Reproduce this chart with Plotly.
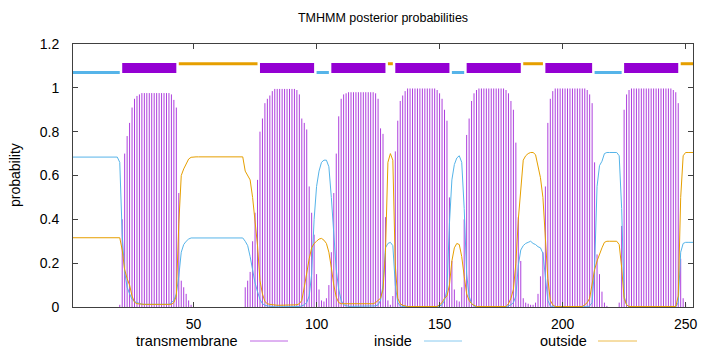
import plotly.graph_objects as go

# ---- data (per residue) ----
residues = list(range(1, 254))

tm_prob = [
    0, 0, 0, 0, 0, 0, 0, 0, 0, 0,
    0, 0, 0, 0, 0, 0, 0, 0, 0, 0.01,
    0.40, 0.70, 0.78, 0.84, 0.91, 0.95, 0.963, 0.97, 0.976, 0.976,
    0.976, 0.976, 0.976, 0.976, 0.976, 0.976, 0.976, 0.976, 0.976, 0.976,
    0.97, 0.945, 0.91, 0.52, 0.12, 0.09, 0.06, 0.03, 0.01, 0,
    0, 0, 0, 0, 0, 0, 0, 0, 0, 0,
    0, 0, 0, 0, 0, 0, 0, 0, 0, 0,
    0.09, 0.12, 0.16, 0.30, 0.43, 0.58, 0.80, 0.86, 0.93, 0.95,
    0.965, 0.985, 0.995, 0.995, 0.995, 0.995, 0.995, 0.995, 0.995, 0.995,
    0.995, 0.99, 0.97, 0.86, 0.84, 0.81, 0.55, 0.43, 0.33, 0.15,
    0.08, 0.03, 0.025, 0.04, 0.10, 0.25, 0.52, 0.70, 0.87, 0.95,
    0.97, 0.975, 0.98, 0.98, 0.98, 0.98, 0.98, 0.98, 0.98, 0.98,
    0.98, 0.98, 0.98, 0.975, 0.95, 0.815, 0.79, 0.41, 0.03, 0.01,
    0.05, 0.71, 0.85, 0.94, 0.965, 0.985, 0.997, 0.997, 0.997, 0.997,
    0.997, 0.997, 0.997, 0.997, 0.997, 0.997, 0.997, 0.997, 0.99, 0.975,
    0.95, 0.90, 0.85, 0.50, 0.21, 0.08, 0.03, 0.025, 0.09, 0.40,
    0.785, 0.86, 0.94, 0.975, 0.99, 0.997, 0.997, 0.997, 0.997, 0.997,
    0.997, 0.997, 0.997, 0.997, 0.997, 0.997, 0.99, 0.975, 0.94, 0.90,
    0.75, 0.41, 0.21, 0.04, 0.02, 0.015, 0.01, 0.01, 0.02, 0.06,
    0.14, 0.25, 0.55, 0.84, 0.95, 0.985, 0.997, 0.997, 0.997, 0.997,
    0.997, 0.997, 0.997, 0.997, 0.997, 0.997, 0.997, 0.997, 0.997, 0.99,
    0.97, 0.93, 0.66, 0.24, 0.15, 0.07, 0.02, 0.005, 0, 0,
    0, 0, 0.02, 0.37, 0.90, 0.97, 0.99, 0.997, 0.997, 0.997,
    0.997, 0.997, 0.997, 0.997, 0.997, 0.997, 0.997, 0.997, 0.997, 0.997,
    0.997, 0.997, 0.997, 0.997, 0.99, 0.98, 0.93, 0.22, 0.04, 0.015,
    0, 0, 0,
]

inside_prob = [
    0.684, 0.684, 0.684, 0.684, 0.684, 0.684, 0.684, 0.684, 0.684, 0.684,
    0.684, 0.684, 0.684, 0.684, 0.684, 0.684, 0.684, 0.684, 0.684, 0.66,
    0.33, 0.16, 0.09, 0.06, 0.035, 0.025, 0.02, 0.016, 0.012, 0.012,
    0.012, 0.012, 0.012, 0.012, 0.012, 0.012, 0.012, 0.012, 0.012, 0.012,
    0.02, 0.03, 0.06, 0.14, 0.25, 0.285, 0.30, 0.31, 0.315, 0.315,
    0.315, 0.315, 0.315, 0.315, 0.315, 0.315, 0.315, 0.315, 0.315, 0.315,
    0.315, 0.315, 0.315, 0.315, 0.315, 0.315, 0.315, 0.315, 0.315, 0.315,
    0.30, 0.28, 0.23, 0.16, 0.11, 0.07, 0.035, 0.015, 0.008, 0.005,
    0.003, 0.002, 0.001, 0.001, 0.001, 0.001, 0.001, 0.001, 0.001, 0.001,
    0.001, 0.001, 0.002, 0.005, 0.01, 0.02, 0.05, 0.15, 0.40, 0.55,
    0.62, 0.66, 0.67, 0.67, 0.64, 0.50, 0.32, 0.17, 0.08, 0.03,
    0.01, 0.005, 0.003, 0.003, 0.003, 0.003, 0.003, 0.003, 0.003, 0.003,
    0.003, 0.003, 0.003, 0.005, 0.01, 0.03, 0.10, 0.27, 0.29, 0.295,
    0.28, 0.10, 0.02, 0.005, 0.002, 0.001, 0.001, 0.001, 0.001, 0.001,
    0.001, 0.001, 0.001, 0.001, 0.001, 0.001, 0.001, 0.001, 0.001, 0.005,
    0.01, 0.03, 0.08, 0.38, 0.58, 0.65, 0.68, 0.69, 0.66, 0.45,
    0.15, 0.05, 0.015, 0.005, 0.001, 0.001, 0.001, 0.001, 0.001, 0.001,
    0.001, 0.001, 0.001, 0.001, 0.001, 0.001, 0.001, 0.005, 0.01, 0.02,
    0.05, 0.19, 0.26, 0.28, 0.29, 0.295, 0.30, 0.29, 0.285, 0.275,
    0.27, 0.245, 0.12, 0.03, 0.005, 0.001, 0.001, 0.001, 0.001, 0.001,
    0.001, 0.001, 0.001, 0.001, 0.001, 0.001, 0.001, 0.001, 0.001, 0.001,
    0.005, 0.02, 0.18, 0.55, 0.645, 0.665, 0.70, 0.705, 0.705, 0.705,
    0.705, 0.705, 0.69, 0.45, 0.05, 0.01, 0.001, 0.001, 0.001, 0.001,
    0.001, 0.001, 0.001, 0.001, 0.001, 0.001, 0.001, 0.001, 0.001, 0.001,
    0.001, 0.001, 0.001, 0.001, 0.001, 0.001, 0.02, 0.25, 0.29, 0.295,
    0.295, 0.295, 0.295,
]

outside_prob = [
    0.316, 0.316, 0.316, 0.316, 0.316, 0.316, 0.316, 0.316, 0.316, 0.316,
    0.316, 0.316, 0.316, 0.316, 0.316, 0.316, 0.316, 0.316, 0.316, 0.316,
    0.26, 0.17, 0.13, 0.10, 0.05, 0.022, 0.015, 0.013, 0.012, 0.012,
    0.012, 0.012, 0.012, 0.012, 0.012, 0.012, 0.012, 0.012, 0.012, 0.012,
    0.012, 0.02, 0.05, 0.38, 0.60, 0.63, 0.655, 0.675, 0.683, 0.685,
    0.685, 0.685, 0.685, 0.685, 0.685, 0.685, 0.685, 0.685, 0.685, 0.685,
    0.685, 0.685, 0.685, 0.685, 0.685, 0.685, 0.685, 0.685, 0.685, 0.685,
    0.62, 0.60, 0.58, 0.50, 0.40, 0.28, 0.12, 0.06, 0.025, 0.015,
    0.012, 0.01, 0.008, 0.008, 0.008, 0.008, 0.008, 0.008, 0.008, 0.008,
    0.008, 0.01, 0.015, 0.03, 0.09, 0.16, 0.22, 0.27, 0.29, 0.30,
    0.31, 0.313, 0.305, 0.29, 0.25, 0.18, 0.10, 0.045, 0.02, 0.015,
    0.015, 0.015, 0.015, 0.015, 0.015, 0.015, 0.015, 0.015, 0.015, 0.015,
    0.015, 0.015, 0.015, 0.02, 0.03, 0.04, 0.08, 0.25, 0.66, 0.70,
    0.67, 0.19, 0.04, 0.015, 0.008, 0.004, 0.002, 0.002, 0.002, 0.002,
    0.002, 0.002, 0.002, 0.002, 0.002, 0.002, 0.002, 0.002, 0.002, 0.01,
    0.02, 0.04, 0.05, 0.10, 0.21, 0.27, 0.29, 0.285, 0.23, 0.14,
    0.06, 0.03, 0.015, 0.008, 0.002, 0.002, 0.002, 0.002, 0.002, 0.002,
    0.002, 0.002, 0.002, 0.002, 0.002, 0.002, 0.002, 0.015, 0.04, 0.08,
    0.20, 0.40, 0.53, 0.67, 0.69, 0.70, 0.705, 0.705, 0.695, 0.64,
    0.59, 0.50, 0.33, 0.13, 0.03, 0.01, 0.002, 0.002, 0.002, 0.002,
    0.002, 0.002, 0.002, 0.002, 0.002, 0.002, 0.002, 0.002, 0.01, 0.02,
    0.04, 0.11, 0.17, 0.21, 0.245, 0.27, 0.295, 0.30, 0.30, 0.30,
    0.30, 0.30, 0.285, 0.18, 0.04, 0.01, 0.002, 0.002, 0.002, 0.002,
    0.002, 0.002, 0.002, 0.002, 0.002, 0.002, 0.002, 0.002, 0.002, 0.002,
    0.002, 0.002, 0.002, 0.002, 0.002, 0.002, 0.05, 0.50, 0.69, 0.705,
    0.705, 0.705, 0.705,
]

# predicted topology segments
seg_type = ["inside", "TMhelix", "outside", "TMhelix", "inside", "TMhelix", "outside",
            "TMhelix", "inside", "TMhelix", "outside", "TMhelix", "inside", "TMhelix", "outside"]
seg_start = [1, 21, 44, 77, 100, 106, 129, 132, 155, 161, 184, 193, 213, 225, 248]
seg_end = [20, 43, 76, 99, 105, 128, 131, 154, 160, 183, 192, 212, 224, 247, 253]

x_ticks = [50, 100, 150, 200, 250]
y_ticks = [0, 0.2, 0.4, 0.6, 0.8, 1.0, 1.2]
y_tick_labels = ["0", "0.2", "0.4", "0.6", "0.8", "1", "1.2"]

title_text = "TMHMM posterior probabilities"
legend_names = ["transmembrane", "inside", "outside"]

# ---- styles ----
C_TM = "#9400d3"
C_IN = "#56b4e9"
C_OUT = "#e69f00"
FONT = "Liberation Sans, Arial, sans-serif"

fig = go.Figure()

# impulses for transmembrane
ix, iy = [], []
for r, v in zip(residues, tm_prob):
    if v > 0:
        ix += [r, r, None]
        iy += [0, v, None]
fig.add_trace(go.Scatter(x=ix, y=iy, mode="lines",
                         line=dict(color=C_TM, width=1), opacity=0.75,
                         showlegend=False, hoverinfo="skip"))

fig.add_trace(go.Scatter(x=residues, y=inside_prob, mode="lines",
                         line=dict(color=C_IN, width=1), showlegend=False))
fig.add_trace(go.Scatter(x=residues, y=outside_prob, mode="lines",
                         line=dict(color=C_OUT, width=1), showlegend=False))

# topology bars at the top
seg_style = {
    "inside": (1.07, C_IN, 3),
    "TMhelix": (1.09, C_TM, 10),
    "outside": (1.11, C_OUT, 3),
}
for kind, (yv, col, w) in seg_style.items():
    sx, sy = [], []
    for t, a, b in zip(seg_type, seg_start, seg_end):
        if t == kind:
            sx += [a, b, None]
            sy += [yv, yv, None]
    fig.add_trace(go.Scatter(x=sx, y=sy, mode="lines",
                             line=dict(color=col, width=w),
                             showlegend=False, hoverinfo="skip"))

# plot area geometry in pixels
W, H = 720, 352
L, R, T, B = 73, 693, 44, 307


def px2paper_x(px):
    return (px - L) / (R - L)


def px2paper_y(py):
    return (B - py) / (B - T)


annotations = [
    dict(text="probability", x=px2paper_x(15), y=px2paper_y(175), xref="paper", yref="paper",
         showarrow=False, textangle=-90, font=dict(family=FONT, size=14, color="#000"),
         xanchor="center", yanchor="middle"),
]
shapes = []
leg_text_right = [240, 414, 589]
leg_line = [(250, 288), (424, 462), (598, 637)]
leg_cols = ["rgba(148,0,211,0.6)", "rgba(86,180,233,0.7)", "rgba(230,159,0,0.7)"]
leg_y = 341
for name, tr, (l0, l1), col in zip(legend_names, leg_text_right, leg_line, leg_cols):
    annotations.append(dict(text=name, x=px2paper_x(tr), y=px2paper_y(leg_y),
                            xref="paper", yref="paper", showarrow=False,
                            xanchor="right", yanchor="middle",
                            font=dict(family=FONT, size=14.5, color="#000")))
    shapes.append(dict(type="line", xref="paper", yref="paper",
                       x0=px2paper_x(l0), x1=px2paper_x(l1),
                       y0=px2paper_y(leg_y), y1=px2paper_y(leg_y),
                       line=dict(color=col, width=1)))

fig.update_layout(
    width=W, height=H,
    margin=dict(l=L, r=W - R, t=T, b=H - B, pad=0),
    paper_bgcolor="white", plot_bgcolor="white",
    title=dict(text=title_text, x=px2paper_x(383), xref="paper", xanchor="center",
               y=1 - 18 / H, yref="container", yanchor="middle",
               font=dict(family=FONT, size=12.5, color="#000")),
    font=dict(family=FONT, size=13, color="#000"),
    annotations=annotations,
    shapes=shapes,
    showlegend=False,
    xaxis=dict(range=[1, 253], tickvals=x_ticks, ticktext=[str(v) for v in x_ticks],
               ticks="inside", ticklen=5, tickcolor="#404040", showline=True,
               linecolor="#404040", linewidth=1, mirror="ticks", showgrid=False,
               zeroline=False, ticklabelstandoff=4,
               tickfont=dict(family=FONT, size=14, color="#000")),
    yaxis=dict(range=[0, 1.2], tickvals=y_ticks, ticktext=y_tick_labels,
               ticks="inside", ticklen=5, tickcolor="#404040", showline=True,
               linecolor="#404040", linewidth=1, mirror="ticks", showgrid=False,
               zeroline=False, ticklabelstandoff=10,
               tickfont=dict(family=FONT, size=14, color="#000")),
)

fig.write_html("out.html")
